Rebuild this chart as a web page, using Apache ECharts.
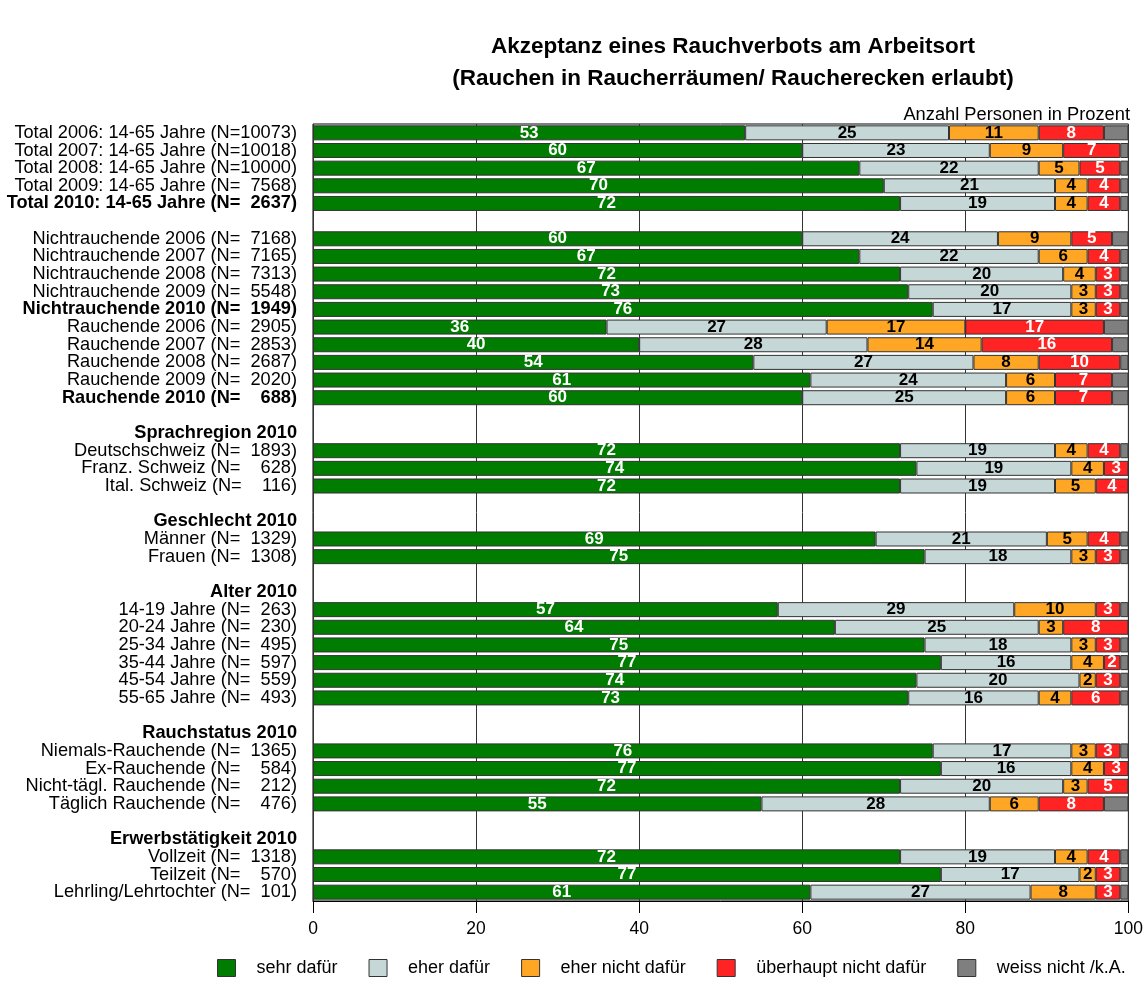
<!DOCTYPE html>
<html>
<head>
<meta charset="utf-8">
<title>Akzeptanz eines Rauchverbots am Arbeitsort</title>
<script src="https://cdn.jsdelivr.net/npm/echarts@6/dist/echarts.min.js"></script>
<style>
  html, body { margin: 0; padding: 0; background: #fff; }
  #main { width: 1146px; height: 1005px; }
</style>
</head>
<body>
<div id="main"></div>
<script>
// Zeilen von oben nach unten, leere Strings = Leerzeile
var categories = [
  "Total 2006: 14-65 Jahre (N=10073)",
  "Total 2007: 14-65 Jahre (N=10018)",
  "Total 2008: 14-65 Jahre (N=10000)",
  "Total 2009: 14-65 Jahre (N=  7568)",
  "Total 2010: 14-65 Jahre (N=  2637)",
  "",
  "Nichtrauchende 2006 (N=  7168)",
  "Nichtrauchende 2007 (N=  7165)",
  "Nichtrauchende 2008 (N=  7313)",
  "Nichtrauchende 2009 (N=  5548)",
  "Nichtrauchende 2010 (N=  1949)",
  "Rauchende 2006 (N=  2905)",
  "Rauchende 2007 (N=  2853)",
  "Rauchende 2008 (N=  2687)",
  "Rauchende 2009 (N=  2020)",
  "Rauchende 2010 (N=    688)",
  "",
  "Sprachregion 2010",
  "Deutschschweiz (N=  1893)",
  "Franz. Schweiz (N=    628)",
  "Ital. Schweiz (N=    116)",
  "",
  "Geschlecht 2010",
  "Männer (N=  1329)",
  "Frauen (N=  1308)",
  "",
  "Alter 2010",
  "14-19 Jahre (N=  263)",
  "20-24 Jahre (N=  230)",
  "25-34 Jahre (N=  495)",
  "35-44 Jahre (N=  597)",
  "45-54 Jahre (N=  559)",
  "55-65 Jahre (N=  493)",
  "",
  "Rauchstatus 2010",
  "Niemals-Rauchende (N=  1365)",
  "Ex-Rauchende (N=    584)",
  "Nicht-tägl. Rauchende (N=    212)",
  "Täglich Rauchende (N=    476)",
  "",
  "Erwerbstätigkeit 2010",
  "Vollzeit (N=  1318)",
  "Teilzeit (N=    570)",
  "Lehrling/Lehrtochter (N=  101)"
];

// fett gedruckte Zeilen (Index)
var boldRows = [4, 10, 15, 17, 22, 26, 34, 40];

var seriesNames = ["sehr dafür", "eher dafür", "eher nicht dafür", "überhaupt nicht dafür", "weiss nicht /k.A."];

var sehrDafuer = [53, 60, 67, 70, 72, null,
  60, 67, 72, 73, 76, 36, 40, 54, 61, 60, null,
  null, 72, 74, 72, null,
  null, 69, 75, null,
  null, 57, 64, 75, 77, 74, 73, null,
  null, 76, 77, 72, 55, null,
  null, 72, 77, 61];
var eherDafuer = [25, 23, 22, 21, 19, null,
  24, 22, 20, 20, 17, 27, 28, 27, 24, 25, null,
  null, 19, 19, 19, null,
  null, 21, 18, null,
  null, 29, 25, 18, 16, 20, 16, null,
  null, 17, 16, 20, 28, null,
  null, 19, 17, 27];
var eherNicht = [11, 9, 5, 4, 4, null,
  9, 6, 4, 3, 3, 17, 14, 8, 6, 6, null,
  null, 4, 4, 5, null,
  null, 5, 3, null,
  null, 10, 3, 3, 4, 2, 4, null,
  null, 3, 4, 3, 6, null,
  null, 4, 2, 8];
var ueberhauptNicht = [8, 7, 5, 4, 4, null,
  5, 4, 3, 3, 3, 17, 16, 10, 7, 7, null,
  null, 4, 3, 4, null,
  null, 4, 3, null,
  null, 3, 8, 3, 2, 3, 6, null,
  null, 3, 3, 5, 8, null,
  null, 4, 3, 3];
var weissNicht = [3, 1, 1, 1, 1, null,
  2, 1, 1, 1, 1, 3, 2, 1, 2, 2, null,
  null, 1, 0, 0, null,
  null, 1, 1, null,
  null, 1, 0, 1, 1, 1, 1, null,
  null, 1, 0, 0, 3, null,
  null, 1, 1, 1];

var xTicks = [0, 20, 40, 60, 80, 100];

var colors = ["#007d00", "#c5d7d6", "#ffa625", "#ff2323", "#7f7f7f"];
var labelColors = ["#fff", "#000", "#000", "#fff", null];
var fontFamily = "'Liberation Sans', Arial, Helvetica, sans-serif";

var chart = echarts.init(document.getElementById("main"));

var allValues = [sehrDafuer, eherDafuer, eherNicht, ueberhauptNicht, weissNicht];
var series = allValues.map(function (vals, i) {
  return {
    name: seriesNames[i],
    type: "bar",
    stack: "total",
    barWidth: 15,
    data: vals,
    itemStyle: {
      color: colors[i],
      borderColor: "#333",
      borderWidth: 1
    },
    label: {
      show: i < 4,
      position: "inside",
      color: labelColors[i],
      fontFamily: fontFamily,
      fontWeight: "bold",
      fontSize: 17,
      formatter: function (p) {
        return p.value ? String(p.value) : "";
      }
    },
    emphasis: { disabled: true }
  };
});

chart.setOption({
  animation: false,
  title: {
    text: "Akzeptanz eines Rauchverbots am Arbeitsort\n(Rauchen in Raucherräumen/ Raucherecken erlaubt)",
    left: 733,
    top: 31,
    padding: 0,
    textAlign: "center",
    textStyle: {
      fontFamily: fontFamily,
      fontSize: 22.5,
      fontWeight: "bold",
      color: "#000",
      lineHeight: 32
    }
  },
  graphic: [{
    type: "text",
    x: 1130,
    y: 115,
    style: {
      text: "Anzahl Personen in Prozent",
      align: "right",
      verticalAlign: "middle",
      font: "18.3px " + fontFamily,
      fill: "#000"
    }
  }],
  legend: {
    top: 959,
    left: 217,
    padding: 0,
    itemWidth: 18,
    itemHeight: 17,
    itemGap: 31,
    icon: "rect",
    data: seriesNames,
    itemStyle: { borderColor: "#333", borderWidth: 1 },
    textStyle: {
      fontFamily: fontFamily,
      fontSize: 18,
      color: "#000",
      padding: [0, 0, 0, 16]
    }
  },
  grid: {
    left: 313,
    right: 15,
    top: 124,
    bottom: 104,
    show: true,
    borderColor: "#000",
    borderWidth: 1,
    containLabel: false
  },
  xAxis: {
    type: "value",
    min: xTicks[0],
    max: xTicks[xTicks.length - 1],
    interval: 20,
    axisLine: { show: true, lineStyle: { color: "#000", width: 1 } },
    axisTick: { show: true, length: 12, lineStyle: { color: "#000" } },
    axisLabel: {
      margin: 19,
      color: "#000",
      fontFamily: fontFamily,
      fontSize: 17.5
    },
    splitLine: { show: true, lineStyle: { color: "#333", width: 1 } }
  },
  yAxis: {
    type: "category",
    inverse: true,
    data: categories,
    axisLine: { show: false },
    axisTick: { show: false },
    axisLabel: {
      interval: 0,
      margin: 16,
      color: "#000",
      fontFamily: fontFamily,
      fontSize: 18.2,
      formatter: function (value, idx) {
        return boldRows.indexOf(idx) >= 0 ? "{b|" + value + "}" : value;
      },
      rich: {
        b: { fontFamily: fontFamily, fontSize: 18.2, fontWeight: "bold", color: "#000" }
      }
    }
  },
  series: series
});
</script>
</body>
</html>
